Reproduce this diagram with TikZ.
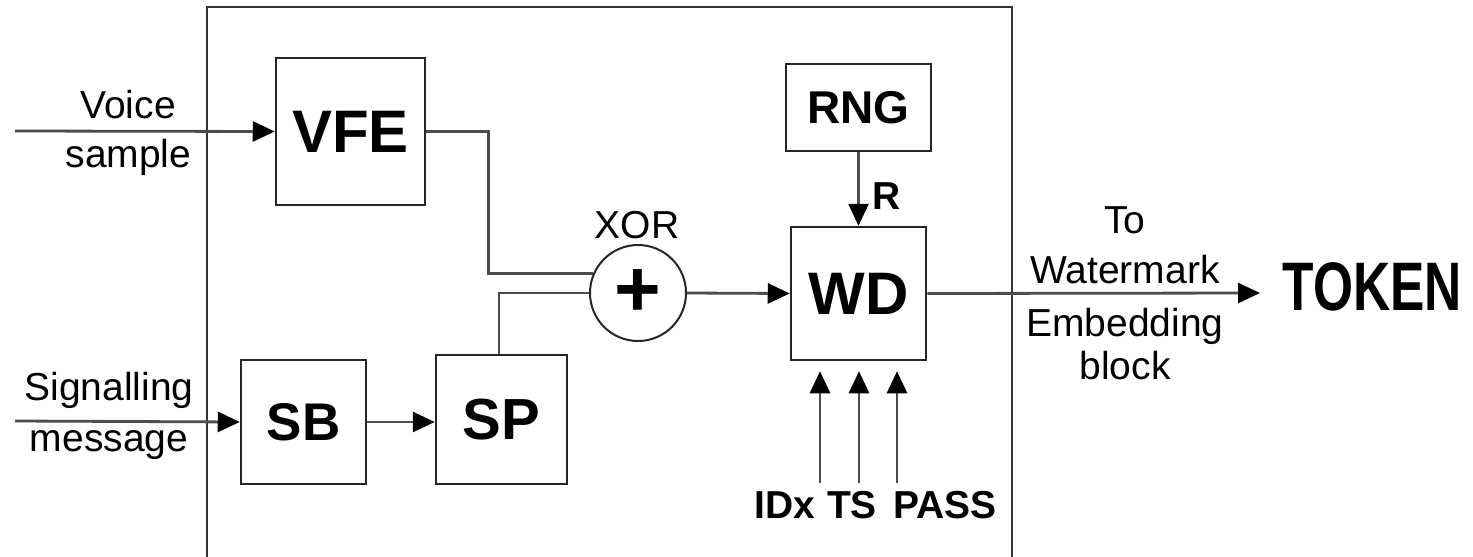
\documentclass[tikz,border=0pt]{standalone}
\usepackage{fontspec}
\setmainfont{Liberation Sans}
\usetikzlibrary{arrows.meta,calc}
\begin{document}
\begin{tikzpicture}[x=1pt,y=-1pt,
  blk/.style={draw=black!85,line width=2.5pt,inner sep=0pt,font=\fontsize{60}{60}\selectfont\bfseries},
  con/.style={draw=black!70,line width=2.8pt},
  arr/.style={con,-{Triangle[length=22pt,width=20pt,color=black]}},
  lbl/.style={inner sep=0pt,anchor=base,font=\fontsize{39}{39}\selectfont},
  blbl/.style={inner sep=0pt,anchor=base,font=\fontsize{39}{39}\selectfont\bfseries}]
\useasboundingbox (0,0) rectangle (1473,557);

% outer block (open at the bottom)
\draw[draw=black!80,line width=2.6pt] (207,565) -- (207,7) -- (1012,7) -- (1012,565);

% blocks
\node[blk,minimum width=149pt,minimum height=147pt] (vfe) at (350.5,131.5) {VFE};
\node[blk,minimum width=145pt,minimum height=87pt,font=\fontsize{46}{46}\selectfont\bfseries] (rng) at (858.5,107.5) {RNG};
\node[blk,minimum width=135pt,minimum height=133pt] (wd) at (858.5,293.5) {WD};
\node[blk,circle,minimum size=96pt,line width=2pt,font=\fontsize{80}{80}\selectfont\bfseries] (xor) at (638,293) {+};
\node[blk,minimum width=125pt,minimum height=124pt,font=\fontsize{53}{53}\selectfont\bfseries] (sb) at (303.5,422) {SB};
\node[blk,minimum width=131pt,minimum height=129pt,font=\fontsize{58}{58}\selectfont\bfseries] (sp) at (501.5,419.5) {SP};

% free ends
\coordinate (vin) at (15,131);
\coordinate (sin) at (15,421);
\coordinate (out) at (1260,293);
\coordinate (i1) at (820,483);
\coordinate (i2) at (859,483);
\coordinate (i3) at (897,483);

% connectors
\draw[arr] (vin) -- (vfe.west);
\draw[arr] (sin) -- (sb.west);
\draw[arr] (sb.east) -- (sp.west |- sb.east);
\draw[con] (vfe.east) -- ++(62,0) |- (xor.157);
\draw[con] (sp.north) ++(-2.5,0) |- (xor.west);
\draw[arr] (xor.east) -- (wd.west);
\draw[arr] (rng.south) -- (wd.north);
\draw[arr] (wd.east) -- (out);
\draw[arr,shorten >=10pt] (i1) -- (i1 |- wd.south);
\draw[arr,shorten >=10pt] (i2) -- (i2 |- wd.south);
\draw[arr,shorten >=10pt] (i3) -- (i3 |- wd.south);

% labels
\node[lbl] (lv1) at (128,118) {Voice};
\node[lbl] (lv2) at (128.5,167) {sample};
\node[lbl] (ls1) at (109,400) {Signalling};
\node[lbl] (ls2) at (109,451) {message};
\node[lbl] (lxor) at (637,238) {XOR};
\node[blbl] (lr) at (887,209) {R};
\node[blbl] (lidx) at (785,518) {IDx};
\node[blbl] (lts) at (852,518) {TS};
\node[blbl] (lpass) at (945,518) {PASS};
\node[lbl] (lo1) at (1125,233) {To};
\node[lbl] (lo2) at (1125,283) {Watermark};
\node[lbl] (lo3) at (1125,336) {Embedding};
\node[lbl] (lo4) at (1125,379) {block};
\node[inner sep=0pt,anchor=base] (tok) at (1372.5,310) {\scalebox{0.78}[1.04]{\fontsize{66}{66}\selectfont\bfseries TOKEN}};
\end{tikzpicture}
\end{document}
